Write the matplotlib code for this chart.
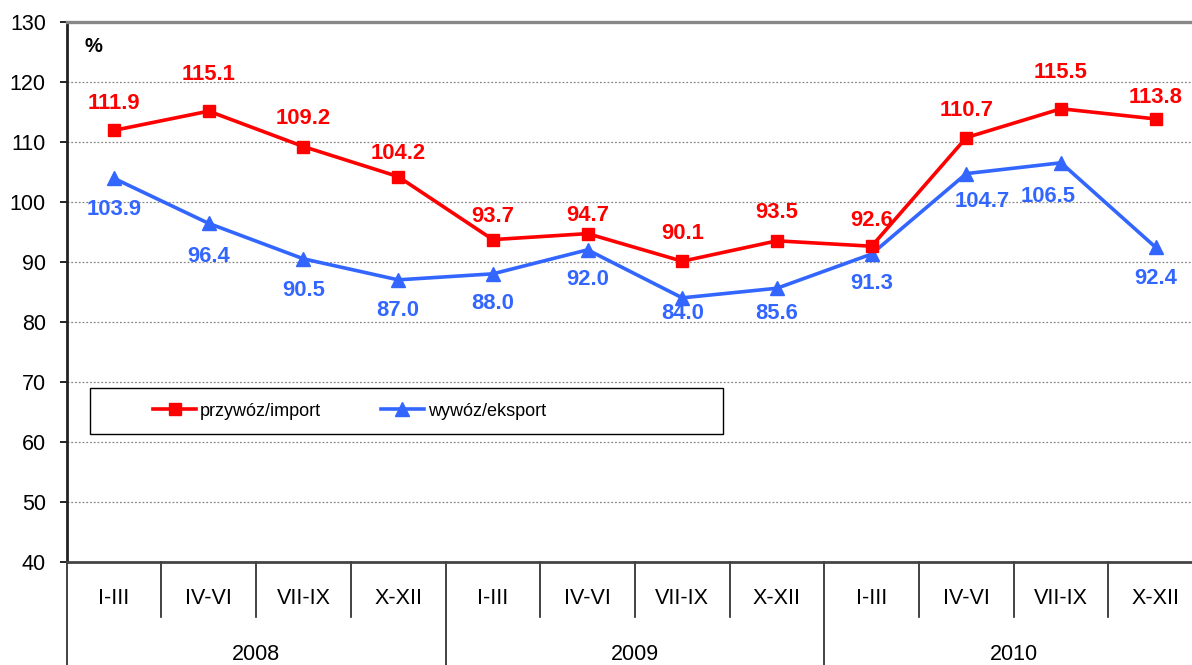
import matplotlib.pyplot as plt
from matplotlib.patches import Rectangle

plt.rcParams['font.family'] = ['Liberation Sans', 'DejaVu Sans']

quarters = ['I-III', 'IV-VI', 'VII-IX', 'X-XII'] * 3
years = ['2008', '2009', '2010']
imports = [111.9, 115.1, 109.2, 104.2, 93.7, 94.7, 90.1, 93.5, 92.6, 110.7, 115.5, 113.8]
exports = [103.9, 96.4, 90.5, 87.0, 88.0, 92.0, 84.0, 85.6, 91.3, 104.7, 106.5, 92.4]

# label offsets in pixels (dx, dy), like the original placement
imp_off = [(0, 27), (0, 37), (0, 28), (0, 23), (0, 23), (0, 18),
           (0, 28), (0, 28), (0, 26), (0, 27), (0, 36), (0, 21)]
exp_off = [(0, -31), (0, -33), (0, -32), (0, -31), (0, -30), (0, -30),
           (0, -16), (0, -25), (0, -29), (16, -28), (-13, -34), (0, -31)]

red = '#FF0000'
blue = '#3366FF'

fig = plt.figure(figsize=(11.92, 6.65), dpi=100)
ax = fig.add_axes([66.7 / 1192, 103 / 665, 1136.4 / 1192, 540.3 / 665])

x = list(range(len(quarters)))
ax.plot(x, imports, color=red, lw=2.6, marker='s', ms=8.5, label='przywóz/import', zorder=4)
ax.plot(x, exports, color=blue, lw=2.6, marker='^', ms=9.5, label='wywóz/eksport', zorder=3)

for i, v in enumerate(imports):
    ax.annotate(f'{v:.1f}', (i, v), xytext=imp_off[i], textcoords='offset pixels',
                ha='center', va='center', color=red, fontsize=15.8, fontweight='bold', zorder=5)
for i, v in enumerate(exports):
    ax.annotate(f'{v:.1f}', (i, v), xytext=exp_off[i], textcoords='offset pixels',
                ha='center', va='center', color=blue, fontsize=15.8, fontweight='bold', zorder=5)

ax.set_xlim(-0.5, len(quarters) - 0.5)
ax.set_ylim(40, 130)
ax.set_yticks(range(40, 131, 10))
ax.tick_params(axis='y', labelsize=15.5, length=5, width=1.2, direction='out', pad=10)
ax.set_xticks([])

for yv in range(50, 130, 10):
    ax.axhline(yv, color='#888888', lw=0.9, ls=(0, (1.5, 1.5)), zorder=1)

ax.spines['top'].set_color('#888888')
ax.spines['top'].set_linewidth(2.4)
ax.spines['right'].set_visible(False)
ax.spines['left'].set_color('#222222')
ax.spines['left'].set_linewidth(2)
ax.spines['bottom'].set_color('#444444')
ax.spines['bottom'].set_linewidth(2)

# category axis: quarters and years
trans = ax.get_xaxis_transform()
for i, q in enumerate(quarters):
    ax.text(i, -36 / 540.3, q, transform=trans, ha='center', va='center', fontsize=15.5)
    xb = i - 0.5
    if i % 4 == 0:
        ax.plot([xb, xb], [0, -103 / 540.3], transform=trans, color='#222222', lw=1.2, clip_on=False)
    else:
        ax.plot([xb, xb], [0, -55 / 540.3], transform=trans, color='#222222', lw=1.2, clip_on=False)
for j, yr in enumerate(years):
    ax.text(j * 4 + 1.5, -92 / 540.3, yr, transform=trans, ha='center', va='center', fontsize=15.5)

ax.text(0.016, 0.955, '%', transform=ax.transAxes, ha='left', va='center',
        fontsize=14.5, fontweight='bold')

# legend box
ax.add_patch(Rectangle((0.0205, 0.2369), 0.557, 0.0851, transform=ax.transAxes,
                       facecolor='white', edgecolor='black', lw=1, zorder=6))
leg = ax.legend(loc='center left', bbox_to_anchor=(0.076, 0.279), ncol=2, frameon=False,
                fontsize=13, borderpad=0, handlelength=2.4, handletextpad=0.2,
                columnspacing=3.3, borderaxespad=0)
leg.set_zorder(7)

fig.savefig('out.png', dpi=100)
